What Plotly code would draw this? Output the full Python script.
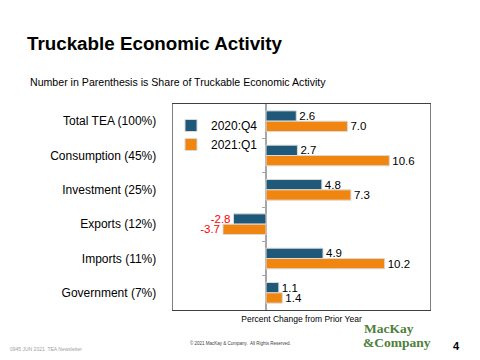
import plotly.graph_objects as go

categories = ["Total TEA (100%)", "Consumption (45%)", "Investment (25%)",
              "Exports (12%)", "Imports (11%)", "Government (7%)"]
q4_2020 = [2.6, 2.7, 4.8, -2.8, 4.9, 1.1]
q1_2021 = [7.0, 10.6, 7.3, -3.7, 10.2, 1.4]
series_names = ["2020:Q4", "2021:Q1"]
boundaries = [0.5, 1.5, 2.5, 3.5, 4.5]

BLUE = "#1F5878"
ORANGE = "#F0850F"
FONT = "Liberation Sans, Arial, sans-serif"

# page body margin offset (the browser adds 8px around the figure)
OFF = 8
PL, PR, PT, PB = 173 - OFF, 430 - OFF, 104 - OFF, 310 - OFF
W, H = 480, 360
XMIN, XMAX = -8, 14.1


def px(x):
    return (x - OFF - PL) / (PR - PL)


def py(y):
    return (PB - (y - OFF)) / (PB - PT)


def label_colors(vals):
    return ["#FF0000" if v < 0 else "#000000" for v in vals]


fig = go.Figure()
for name, vals, col in [(series_names[0], q4_2020, BLUE), (series_names[1], q1_2021, ORANGE)]:
    fig.add_trace(go.Bar(
        y=categories, x=vals, name=name, orientation="h",
        marker=dict(color=col, line=dict(color="#D9D9D9", width=1)),
        texttemplate="%{x:.1f}", textposition="outside", constraintext="none",
        textfont=dict(family=FONT, size=11.5, color=label_colors(vals)),
        cliponaxis=False,
    ))

# invisible helper trace for the tick axis drawn at zero
fig.add_trace(go.Scatter(x=[0] * len(boundaries), y=boundaries, mode="markers",
                         marker=dict(opacity=0), yaxis="y2", showlegend=False,
                         hoverinfo="skip"))

fig.update_layout(
    width=W, height=H,
    margin=dict(l=PL, r=W - PR, t=PT, b=H - PB, autoexpand=False),
    paper_bgcolor="white", plot_bgcolor="white",
    barmode="group", bargap=0.40, bargroupgap=0,
    font=dict(family=FONT, size=12, color="#000000"),
    showlegend=True,
    legend=dict(x=px(171), y=py(111), xanchor="left", yanchor="top",
                bgcolor="rgba(0,0,0,0)", font=dict(size=12, family=FONT),
                tracegroupgap=0, itemwidth=30),
    xaxis=dict(range=[XMIN, XMAX], showticklabels=False, showgrid=False,
               zeroline=True, zerolinecolor="#A6A6A6", zerolinewidth=2,
               showline=True, linecolor="#404040", linewidth=1, mirror=True,
               ticks="",
               title=dict(text="Percent Change from Prior Year",
                          font=dict(size=8.5, family=FONT), standoff=6)),
    yaxis=dict(autorange="reversed", showgrid=False, ticks="",
               showline=True, linecolor="#7F7F7F", linewidth=1, mirror=True,
               tickfont=dict(size=12, family=FONT), ticksuffix="    "),
    yaxis2=dict(overlaying="y", anchor="free", position=(0 - XMIN) / (XMAX - XMIN),
                side="left", range=[5.5, -0.5], tickvals=boundaries,
                showticklabels=False, ticks="outside", ticklen=4,
                tickcolor="#A6A6A6", showgrid=False, showline=False,
                zeroline=False),
)

fig.add_annotation(text="<b>Truckable Economic Activity</b>", xref="paper", yref="paper",
                   x=px(25), y=py(44), xanchor="left", yanchor="middle",
                   showarrow=False, font=dict(size=18.8, family=FONT, color="#000000"))
fig.add_annotation(text="Number in Parenthesis is Share of Truckable Economic Activity",
                   xref="paper", yref="paper", x=px(28), y=py(82),
                   xanchor="left", yanchor="middle", showarrow=False,
                   font=dict(size=10.6, family=FONT, color="#000000"))
fig.add_annotation(text="0945 JUN 2021  TEA Newsletter", xref="paper", yref="paper",
                   x=px(8), y=py(349), xanchor="left", yanchor="middle",
                   showarrow=False, font=dict(size=5, family=FONT, color="#A0A0A0"))
fig.add_annotation(text="© 2021 MacKay & Company.  All Rights Reserved.", xref="paper", yref="paper",
                   x=px(240), y=py(343), xanchor="center", yanchor="middle",
                   showarrow=False, font=dict(size=4.5, family=FONT, color="#404040"))
fig.add_annotation(text="<b>MacKay</b>", xref="paper", yref="paper",
                   x=px(362), y=py(328), xanchor="left", yanchor="middle",
                   showarrow=False, font=dict(size=13.5, family="Liberation Serif, serif", color="#4E7F3A"))
fig.add_annotation(text="<b>&amp;Company</b>", xref="paper", yref="paper",
                   x=px(361), y=py(342), xanchor="left", yanchor="middle",
                   showarrow=False, font=dict(size=13.5, family="Liberation Serif, serif", color="#4E7F3A"))
fig.add_annotation(text="<b>4</b>", xref="paper", yref="paper",
                   x=px(456), y=py(346), xanchor="center", yanchor="middle",
                   showarrow=False, font=dict(size=11, family=FONT, color="#000000"))

fig.write_html("out.html")
